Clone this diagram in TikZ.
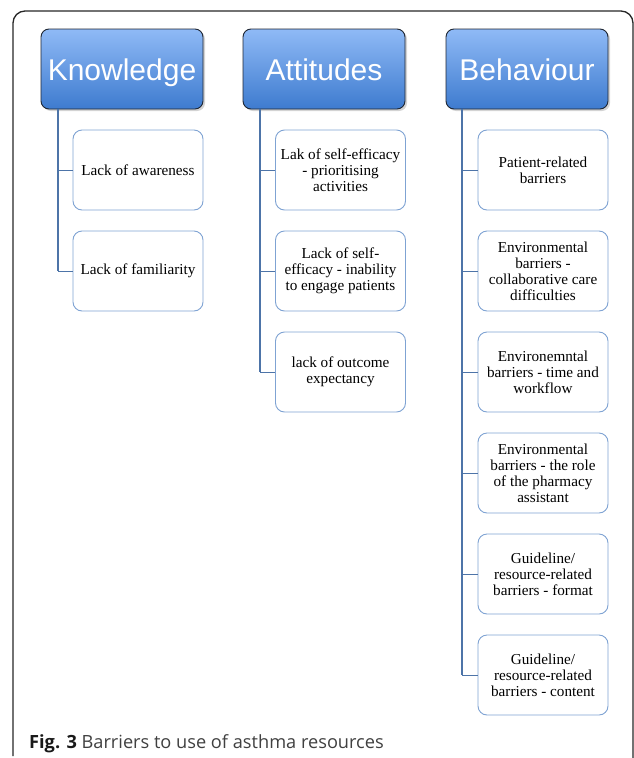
\documentclass[tikz,border=0pt]{standalone}
\usepackage{fontspec}
\setmainfont{Liberation Serif}
\newfontfamily\hdrfont{Liberation Sans}
\newfontfamily\capfont{Open Sans}
\usetikzlibrary{shadows}
\definecolor{hdrtop}{HTML}{8FBAF6}
\definecolor{hdrbot}{HTML}{3E7BCF}
\definecolor{hdrborder}{HTML}{1E2633}
\definecolor{childborder}{HTML}{7FA3D3}
\definecolor{linkcol}{HTML}{4D74A8}
\definecolor{captext}{HTML}{404040}
\tikzset{
  x=1pt, y=-1pt,
  hdr/.style={rounded corners=8pt, draw=hdrborder, line width=0.9pt,
    top color=hdrtop, bottom color=hdrbot, minimum width=162pt, minimum height=80pt,
    inner sep=0pt, text=white, font=\hdrfont\fontsize{30}{34}\selectfont,
    text height=22pt, text depth=0pt,
    drop shadow={shadow xshift=2pt, shadow yshift=-2pt, opacity=0.35}},
  child/.style={rounded corners=9pt, draw=childborder, line width=0.9pt, fill=white,
    minimum width=130pt, minimum height=80pt, inner sep=0pt, align=center,
    font=\fontsize{15.2}{16}\selectfont},
  link/.style={draw=linkcol, line width=1.3pt},
  hlink/.style={draw=linkcol, line width=0.8pt}
}
\begin{document}
\begin{tikzpicture}
\useasboundingbox (0,0) rectangle (634,758);
\begin{scope}
\clip (0,0) rectangle (634,758);
\draw[line width=1.3pt, draw=black!85, rounded corners=12pt] (13,756) -- (13,11) -- (633,11) -- (633,800);
\end{scope}
% headers
\node[hdr] (k) at (122,69) {Knowledge};
\node[hdr] (a) at (324,69) {Attitudes};
\node[hdr] (b) at (527,69) {Behaviour};
% knowledge children
\node[child] (k1) at (138,170) {Lack of awareness};
\node[child] (k2) at (138,271) {Lack of familiarity};
% attitudes children
\node[child] (a1) at (340.5,170) {Lak of self-efficacy\\- prioritising\\activities};
\node[child] (a2) at (340.5,271) {Lack of self-\\efficacy - inability\\to engage patients};
\node[child] (a3) at (340.5,372) {lack of outcome\\expectancy};
% behaviour children
\node[child] (b1) at (543,170) {Patient-related\\barriers};
\node[child] (b2) at (543,271) {Environmental\\barriers -\\collaborative care\\difficulties};
\node[child] (b3) at (543,372) {Environemntal\\barriers - time and\\workflow};
\node[child] (b4) at (543,473) {Environmental\\barriers - the role\\of the pharmacy\\assistant};
\node[child] (b5) at (543,574) {Guideline/\\resource-related\\barriers - format};
\node[child] (b6) at (543,675) {Guideline/\\resource-related\\barriers - content};
% trunk coordinates
\coordinate (kt) at (58,109);
\coordinate (at) at (260,109);
\coordinate (bt) at (462,109);
% connectors
\foreach \c in {k1,k2} \draw[hlink] (\c.west) -- (kt |- \c.west);
\foreach \c in {a1,a2,a3} \draw[hlink] (\c.west) -- (at |- \c.west);
\foreach \c in {b1,b2,b3,b4,b5,b6} \draw[hlink] (\c.west) -- (bt |- \c.west);
\draw[link] (kt) -- (kt |- k2.west);
\draw[link] (at) -- (at |- a3.west);
\draw[link] (bt) -- (bt |- b6.west);
% caption
\node[anchor=base west, inner sep=0pt, font=\capfont\fontsize{18.2}{20}\selectfont, text=captext] (cap) at (29,748)
  {\textcolor{black!90}{\textbf{Fig. 3}} Barriers to use of asthma resources};
\end{tikzpicture}
\end{document}
